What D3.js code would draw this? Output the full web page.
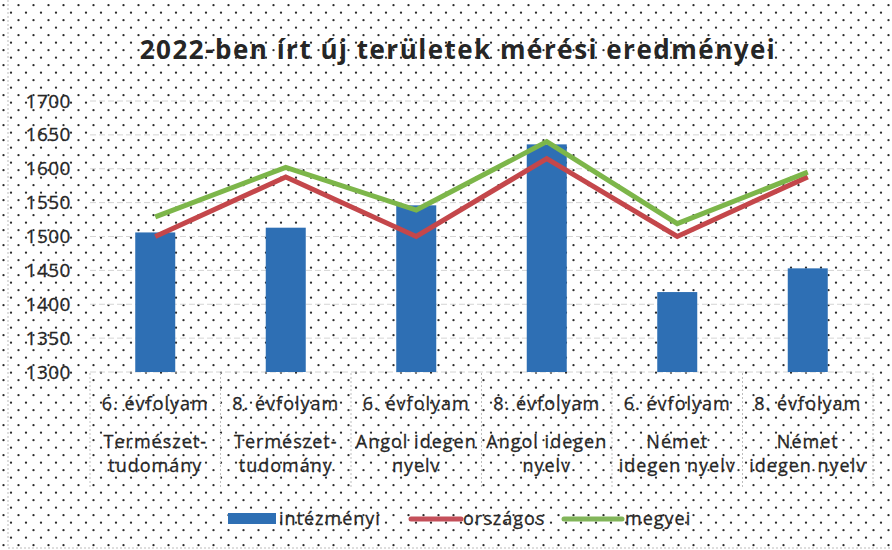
<!DOCTYPE html>
<html>
<head>
<meta charset="utf-8">
<script src="https://cdn.jsdelivr.net/npm/d3@7"></script>
<style>
  body { margin: 0; background: #fff; }
  svg { display: block; }
  text { font-family: "Open Sans", Lato, sans-serif; fill: #262626; stroke: #262626; stroke-width: 0.3px; }
</style>
</head>
<body>
<svg id="chart" width="892" height="550"></svg>
<script>
const grades = ['6. évfolyam', '8. évfolyam', '6. évfolyam', '8. évfolyam', '6. évfolyam', '8. évfolyam'];
const subjects = [
  ['Természet-', 'tudomány'], ['Természet-', 'tudomány'],
  ['Angol idegen', 'nyelv'], ['Angol idegen', 'nyelv'],
  ['Német', 'idegen nyelv'], ['Német', 'idegen nyelv']
];
const intezmenyi = [1506, 1513, 1546, 1636, 1418, 1453];
const orszagos = [1500, 1588, 1500, 1615, 1500, 1588];
const megyei = [1529, 1602, 1539, 1640, 1519, 1595];
const yTicks = [1300, 1350, 1400, 1450, 1500, 1550, 1600, 1650, 1700];
const title = '2022-ben írt új területek mérési eredményei';

const svg = d3.select('#chart');
const idx = d3.range(grades.length);

// dotted paper background
const pat = svg.append('defs').append('pattern')
  .attr('id', 'dots')
  .attr('patternUnits', 'userSpaceOnUse')
  .attr('width', 15)
  .attr('height', 15);
pat.append('circle').attr('cx', 3.5).attr('cy', 5.2).attr('r', 1.15).attr('fill', '#2b2b2b');
pat.append('circle').attr('cx', 11).attr('cy', 12.7).attr('r', 1.15).attr('fill', '#2b2b2b');

svg.append('rect').attr('width', 892).attr('height', 550).attr('fill', 'url(#dots)');

// scanned frame edges
svg.append('line')
  .attr('x1', 8).attr('x2', 8).attr('y1', 0).attr('y2', 548)
  .attr('stroke', '#bbb').attr('stroke-dasharray', '2,2');
svg.append('line')
  .attr('x1', 8).attr('x2', 892).attr('y1', 548).attr('y2', 548)
  .attr('stroke', '#bbb').attr('stroke-dasharray', '2,2');

const x = d3.scaleBand().domain(idx).range([90, 873]).paddingInner(0).paddingOuter(0);
const y = d3.scaleLinear().domain([1300, 1700]).range([372, 101]);

// gridlines
svg.append('g')
  .selectAll('line')
  .data(yTicks)
  .join('line')
  .attr('x1', 90)
  .attr('x2', 873)
  .attr('y1', d => y(d))
  .attr('y2', d => y(d))
  .attr('stroke', '#d4d4d4')
  .attr('stroke-width', 1)
  .attr('stroke-dasharray', '6,3');

// y axis labels
const yAxis = svg.append('g')
  .attr('transform', 'translate(71,0)')
  .call(d3.axisLeft(y).tickValues(yTicks).tickFormat(d3.format('d')).tickSize(0).tickPadding(0));
yAxis.select('.domain').remove();
yAxis.selectAll('text')
  .style('font-size', '19px')
  .style('font-family', '"Open Sans", sans-serif')
  .style('letter-spacing', '0.5px')
  .attr('fill', '#262626');

// bars
const barW = 40;
svg.append('g')
  .selectAll('rect')
  .data(idx)
  .join('rect')
  .attr('x', i => x(i) + x.bandwidth() / 2 - barW / 2)
  .attr('y', i => y(intezmenyi[i]))
  .attr('width', barW)
  .attr('height', i => y(1300) - y(intezmenyi[i]))
  .attr('fill', '#2e6fb4');

// lines
const line = d3.line()
  .x(d => x(d[0]) + x.bandwidth() / 2)
  .y(d => y(d[1]));

svg.append('path')
  .datum(idx.map(i => [i, orszagos[i]]))
  .attr('d', line)
  .attr('fill', 'none')
  .attr('stroke', '#c4474b')
  .attr('stroke-width', 5)
  .attr('stroke-linejoin', 'miter');

svg.append('path')
  .datum(idx.map(i => [i, megyei[i]]))
  .attr('d', line)
  .attr('fill', 'none')
  .attr('stroke', '#7db64a')
  .attr('stroke-width', 5)
  .attr('stroke-linejoin', 'miter');

// category boxes
svg.append('g')
  .selectAll('line')
  .data(d3.range(grades.length + 1))
  .join('line')
  .attr('x1', i => 90 + i * x.bandwidth())
  .attr('x2', i => 90 + i * x.bandwidth())
  .attr('y1', 373)
  .attr('y2', 487)
  .attr('stroke', '#bdbdbd')
  .attr('stroke-dasharray', '2,2');

const cat = svg.append('g')
  .selectAll('g')
  .data(idx)
  .join('g')
  .attr('transform', i => 'translate(' + (x(i) + x.bandwidth() / 2) + ',0)');

cat.append('text')
  .attr('y', 410)
  .attr('text-anchor', 'middle')
  .style('font-size', '18px')
  .style('letter-spacing', '1px')
  .text(i => grades[i]);

cat.append('text')
  .attr('y', 448)
  .attr('text-anchor', 'middle')
  .style('font-size', '18px')
  .style('letter-spacing', '1px')
  .text(i => subjects[i][0]);

cat.append('text')
  .attr('y', 472)
  .attr('text-anchor', 'middle')
  .style('font-size', '18px')
  .style('letter-spacing', '1px')
  .text(i => subjects[i][1]);

// title
svg.append('text')
  .attr('x', 458)
  .attr('y', 59)
  .attr('text-anchor', 'middle')
  .style('font-size', '26px')
  .style('font-weight', 'bold')
  .style('letter-spacing', '1.5px')
  .style('stroke-width', '0')
  .attr('fill', '#262626')
  .text(title);

// legend
const legend = svg.append('g');
legend.append('rect')
  .attr('x', 228).attr('y', 513).attr('width', 48).attr('height', 11)
  .attr('fill', '#2e6fb4');
legend.append('text')
  .attr('x', 279).attr('y', 525)
  .style('font-size', '18px')
  .style('letter-spacing', '1px')
  .text('intézményi');
legend.append('line')
  .attr('x1', 411).attr('x2', 461).attr('y1', 519).attr('y2', 519)
  .attr('stroke', '#c4505a').attr('stroke-width', 5).attr('stroke-linecap', 'round');
legend.append('text')
  .attr('x', 463).attr('y', 525)
  .style('font-size', '18px')
  .style('letter-spacing', '1px')
  .text('országos');
legend.append('line')
  .attr('x1', 564).attr('x2', 622).attr('y1', 519).attr('y2', 519)
  .attr('stroke', '#82b55a').attr('stroke-width', 5).attr('stroke-linecap', 'round');
legend.append('text')
  .attr('x', 625).attr('y', 525)
  .style('font-size', '18px')
  .style('letter-spacing', '1px')
  .text('megyei');
</script>
</body>
</html>
